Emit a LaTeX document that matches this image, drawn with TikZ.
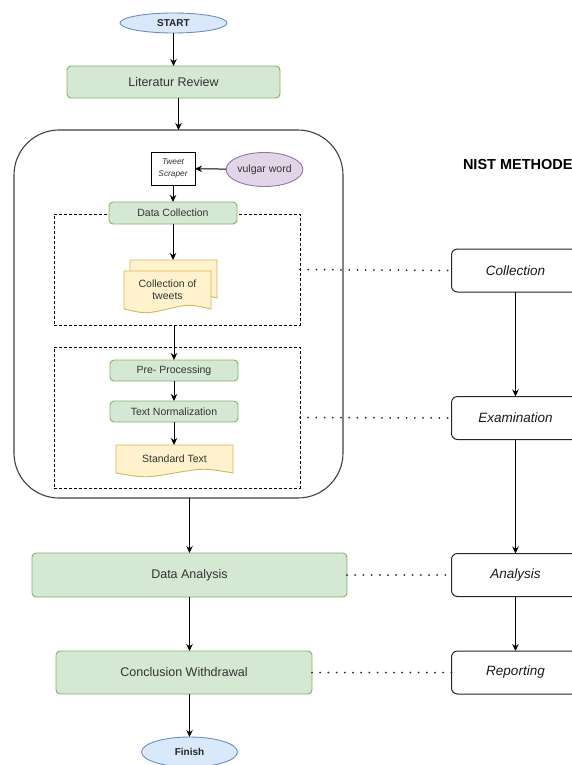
\documentclass[tikz,border=0pt]{standalone}
\usepackage{fontspec}
\setmainfont{Liberation Sans}
\usetikzlibrary{arrows.meta,calc,backgrounds,shapes.geometric}

\definecolor{greenfill}{HTML}{D5E8D4}
\definecolor{greenline}{HTML}{82B366}
\definecolor{bluefill}{HTML}{DAE8FC}
\definecolor{blueline}{HTML}{6C8EBF}
\definecolor{yellowfill}{HTML}{FFF2CC}
\definecolor{yellowline}{HTML}{D6B656}
\definecolor{purplefill}{HTML}{E1D5E7}
\definecolor{purpleline}{HTML}{9673A6}
\definecolor{txtgray}{HTML}{333333}

% wavy lower edge of a document node
\newcommand{\docshape}[1]{%
	\draw[docline] (#1.north west) -- (#1.north east) -- (#1.south east)
	.. controls ($(#1.south east)!0.25!(#1.south west)+(0,5pt)$) .. ($(#1.south east)!0.5!(#1.south west)$)
	.. controls ($(#1.south east)!0.75!(#1.south west)+(0,-5pt)$) .. (#1.south west) -- cycle;}

\begin{document}
\begin{tikzpicture}[x=1pt,y=-1pt,
		every node/.style={inner sep=0pt,outer sep=0pt,text=txtgray},
		arr/.style={line width=1pt,-{Stealth[length=7pt,width=6.5pt]}},
		dots/.style={line width=2pt,black!85,dash pattern=on 0pt off 8.2pt,line cap=round},
		stepgreen/.style={draw=greenline,fill=greenfill,line width=0.9pt,rounded corners=4pt,font=\fontsize{10.5}{12}\selectfont},
		biggreen/.style={stepgreen,font=\fontsize{12.5}{14}\selectfont},
		terminal/.style={ellipse,draw=blueline,fill=bluefill,line width=0.9pt,font=\bfseries\fontsize{10}{12}\selectfont,text=black!85},
		nist/.style={draw=black!85,line width=1pt,rounded corners=6pt,minimum width=128pt,minimum height=43pt,font=\itshape\fontsize{13.5}{15}\selectfont,text=black!90},
		docnode/.style={font=\fontsize{10.5}{12}\selectfont,align=center},
		docline/.style={draw=yellowline,fill=yellowfill,line width=0.9pt},
		phasebox/.style={draw=black!75,line width=1.1pt,rounded corners=45pt},
		groupbox/.style={draw=black,line width=0.9pt,dash pattern=on 3pt off 2pt}]
	\useasboundingbox (0,0) rectangle (572,765);
	%	main flow
	\node[terminal,minimum width=107pt,minimum height=20pt] (start) at (173.5,23) {START};
	\node[biggreen,minimum width=213pt,minimum height=32pt] (lit) at (173.5,82) {Literatur Review};
	\node[phasebox,minimum width=329pt,minimum height=368pt] (phase) at (178.5,314) {};
	\node[draw=black,line width=1pt,fill=white,minimum width=44pt,minimum height=33pt,align=center,
		font=\itshape\fontsize{8.3}{12}\selectfont,text=black!80] (scraper) at (173,168.5) {Tweet\\Scraper};
	\node[ellipse,draw=purpleline,fill=purplefill,line width=0.9pt,minimum width=71pt,minimum height=34pt,
		font=\fontsize{10.5}{12}\selectfont] (vulgar) at (264.5,169.5) {vulgar word};
	\node[groupbox,minimum width=246pt,minimum height=111pt] (group1) at (177,269.5) {};
	\node[stepgreen,minimum width=128pt,minimum height=22pt] (dcol) at (173,213) {Data Collection};
	\node[docnode,minimum width=87pt,minimum height=38pt] (tweetsback) at (173.5,279) {};
	\node[docnode,minimum width=87pt,minimum height=38pt] (tweets) at (167.5,290) {Collection of\\tweets};
	\node[groupbox,minimum width=246pt,minimum height=141pt] (group2) at (177,417.5) {};
	\node[stepgreen,minimum width=128pt,minimum height=21pt] (pre) at (174,370.5) {Pre- Processing};
	\node[stepgreen,minimum width=128pt,minimum height=21pt] (norm) at (174,411.5) {Text Normalization};
	\node[docnode,minimum width=117pt,minimum height=28pt] (std) at (174.5,459) {Standard Text};
	\node[biggreen,minimum width=315pt,minimum height=44pt] (ana) at (189.5,575) {Data Analysis};
	\node[biggreen,minimum width=256pt,minimum height=43pt] (conc) at (184,672.5) {Conclusion Withdrawal};
	\node[terminal,minimum width=96pt,minimum height=30pt] (fin) at (189.5,752) {Finish};
	%	NIST column
	\node[anchor=west,font=\bfseries\fontsize{14.5}{16}\selectfont,text=black] (title) at (463,165) {NIST METHODE};
	\node[nist] (ncol) at (515.5,270.5) {Collection};
	\node[nist] (nexa) at (515.5,418) {Examination};
	\node[nist] (nana) at (515.5,575) {Analysis};
	\node[nist] (nrep) at (515.5,672.5) {Reporting};
	\begin{pgfonlayer}{background}
		\docshape{tweetsback}
		\docshape{tweets}
		\docshape{std}
	\end{pgfonlayer}
	%	connectors
	\draw[arr] (start) -- (lit);
	\draw[arr] (lit.south -| phase.north) -- (phase.north);
	\draw[arr] (vulgar) -- (scraper);
	\draw[arr] (scraper) -- (dcol);
	\draw[arr] (dcol) -- (tweetsback.north -| dcol.south);
	\draw[arr] (group1.south -| pre.north) -- (pre.north);
	\draw[arr] (pre) -- (norm);
	\draw[arr] (norm) -- (norm.south |- std.north);
	\draw[arr] (phase.south -| ana.north) -- (ana.north);
	\draw[arr] (ana.south) -- (ana.south |- conc.north);
	\draw[arr] (conc.south -| fin.north) -- (fin.north);
	\draw[arr] (ncol) -- (nexa);
	\draw[arr] (nexa) -- (nana);
	\draw[arr] (nana) -- (nrep);
	\draw[dots] (group1.east) -- (ncol.west);
	\draw[dots] (group2.east) -- (nexa.west);
	\draw[dots] (ana.east) -- (nana.west);
	\draw[dots] (conc.east) -- (nrep.west);
\end{tikzpicture}
\end{document}
